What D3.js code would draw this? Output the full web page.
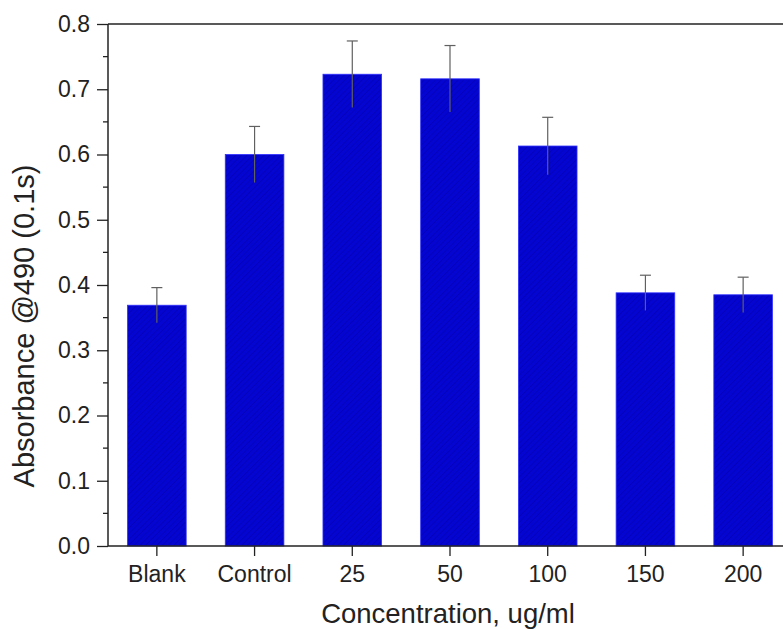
<!DOCTYPE html>
<html>
<head>
<meta charset="utf-8">
<script src="https://cdn.jsdelivr.net/npm/d3@7"></script>
<style>
  html, body { margin: 0; padding: 0; background: #fff; }
  svg { display: block; font-family: "Liberation Sans", Arial, sans-serif; }
</style>
</head>
<body>
<svg id="chart" width="783" height="630"></svg>
<script>
const categories = ["Blank", "Control", "25", "50", "100", "150", "200"];
const values = [0.369, 0.600, 0.723, 0.716, 0.613, 0.388, 0.385];
const errors = [0.027, 0.043, 0.051, 0.051, 0.044, 0.027, 0.027];
const yTicks = [0.0, 0.1, 0.2, 0.3, 0.4, 0.5, 0.6, 0.7, 0.8];
const yMinorTicks = [0.05, 0.15, 0.25, 0.35, 0.45, 0.55, 0.65, 0.75];
const xTitle = "Concentration, ug/ml";
const yTitle = "Absorbance @490 (0.1s)";

const svg = d3.select("#chart");
const mLeft = 108, mTop = 24, mBottom = 546, mRight = 792;
const ink = "#222";
const fontFam = "Liberation Sans, Arial, sans-serif";

const x = d3.scaleBand().domain(categories).range([mLeft, mRight])
  .paddingInner(0.4).paddingOuter(0.2);
const y = d3.scaleLinear().domain([0, 0.8]).range([mBottom, mTop]);

// hatch pattern
const defs = svg.append("defs");
const pat = defs.append("pattern").attr("id", "hatch")
  .attr("patternUnits", "userSpaceOnUse").attr("width", 4).attr("height", 4)
  .attr("patternTransform", "rotate(45)");
pat.append("rect").attr("width", 4).attr("height", 4).attr("fill", "#0505d2");
pat.append("line").attr("x1", 0).attr("y1", 0).attr("x2", 0).attr("y2", 4)
  .attr("stroke", "#0000b0").attr("stroke-width", 1.2);

// bars
svg.append("g").selectAll("rect").data(categories).join("rect")
  .attr("x", d => x(d))
  .attr("y", (d, i) => y(values[i]))
  .attr("width", x.bandwidth())
  .attr("height", (d, i) => y(0) - y(values[i]))
  .attr("fill", "url(#hatch)")
  .attr("stroke", "#3030ff").attr("stroke-width", 0.8);

// error bars
const eb = svg.append("g").attr("stroke", "#606060").attr("stroke-width", 1.2);
categories.forEach((c, i) => {
  const cx = x(c) + x.bandwidth() / 2;
  eb.append("line").attr("x1", cx).attr("x2", cx)
    .attr("y1", y(values[i] - errors[i])).attr("y2", y(values[i] + errors[i]));
  eb.append("line").attr("x1", cx - 5.5).attr("x2", cx + 5.5)
    .attr("y1", y(values[i] + errors[i])).attr("y2", y(values[i] + errors[i]));
});

// y axis
const yAxis = d3.axisLeft(y).tickValues(yTicks).tickFormat(d3.format(".1f"))
  .tickSize(11).tickPadding(7);
const gy = svg.append("g").attr("transform", `translate(${mLeft},0)`).call(yAxis);
gy.select(".domain").remove();
gy.selectAll(".tick line").attr("stroke", ink).attr("stroke-width", 1.3);
gy.selectAll(".tick text").attr("font-size", 23).attr("fill", ink)
  .attr("font-family", fontFam);
svg.append("g").selectAll("line").data(yMinorTicks).join("line")
  .attr("x1", mLeft - 5).attr("x2", mLeft)
  .attr("y1", d => y(d)).attr("y2", d => y(d))
  .attr("stroke", ink).attr("stroke-width", 1.3);

// x axis
const xAxis = d3.axisBottom(x).tickSize(10).tickPadding(10);
const gx = svg.append("g").attr("transform", `translate(0,${mBottom})`).call(xAxis);
gx.select(".domain").remove();
gx.selectAll(".tick line").attr("stroke", ink).attr("stroke-width", 1.3);
gx.selectAll(".tick text").attr("font-size", 23).attr("fill", ink)
  .attr("font-family", fontFam);

// frame lines
svg.append("line").attr("x1", mLeft).attr("x2", 783).attr("y1", mBottom).attr("y2", mBottom)
  .attr("stroke", ink).attr("stroke-width", 1.5);
svg.append("line").attr("x1", mLeft).attr("x2", 783).attr("y1", mTop).attr("y2", mTop)
  .attr("stroke", ink).attr("stroke-width", 1.5);
svg.append("line").attr("x1", mLeft).attr("x2", mLeft).attr("y1", mTop).attr("y2", mBottom)
  .attr("stroke", ink).attr("stroke-width", 1.5);

// titles
svg.append("text").attr("x", 448).attr("y", 623).attr("text-anchor", "middle")
  .attr("font-size", 27.5).attr("fill", ink).attr("font-family", fontFam).text(xTitle);
svg.append("text").attr("transform", "translate(34,326) rotate(-90)")
  .attr("text-anchor", "middle").attr("font-size", 29).attr("fill", ink)
  .attr("font-family", fontFam).text(yTitle);
</script>
</body>
</html>
